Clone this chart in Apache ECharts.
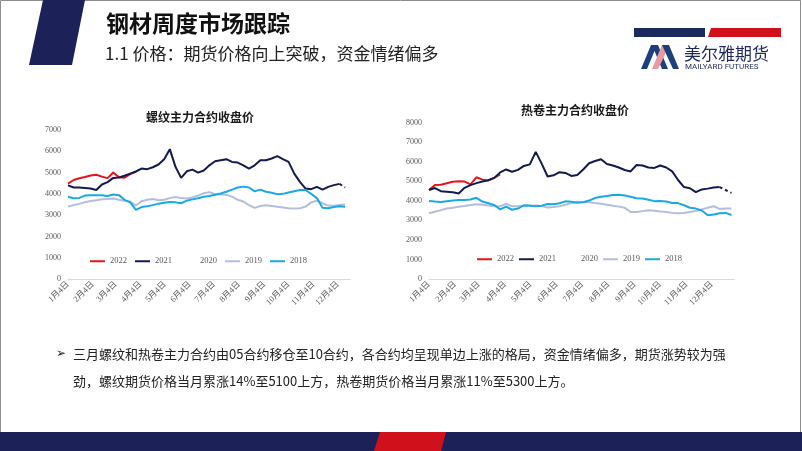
<!DOCTYPE html>
<html><head><meta charset="utf-8">
<script src="https://cdn.jsdelivr.net/npm/echarts@6/dist/echarts.min.js"></script>
<style>html,body{margin:0;padding:0;background:#fff}#c{width:802px;height:451px}</style>
</head><body><div id="c"></div>
<script>
// ---- data ----
const weekDays = [0,7,14,21,28,35,42,49,56,63,70,77,84,91,98,105,112,119,126,133,140,147,154,161,168,175,182,189,196,203,210,217,224,231,238,245,252,259,266,273,280,287,294,301,308,315,322,329,336,343,350,357];
const monthTickDays = [0,31,59,90,120,151,181,212,243,273,304,334];
const monthTickLabels = ['1月4日','2月4日','3月4日','4月4日','5月4日','6月4日','7月4日','8月4日','9月4日','10月4日','11月4日','12月4日'];
const yearNames = ['2022','2021','2020','2019','2018'];

// 螺纹 (rebar)
const rb2022 = [4480,4650,4730,4790,4860,4900,4810,4740,5000,4780,4760,4930,5040];
const rb2021 = [4400,4300,4300,4280,4250,4180,4440,4550,4750,4770,4850,4950,5050,5190,5160,5250,5380,5630,6100,5270,4750,5060,5140,5000,5100,5340,5530,5580,5630,5500,5470,5340,5190,5340,5580,5580,5660,5770,5630,5500,4950,4560,4250,4220,4330,4200,4330,4410,4470];
const rb2021Tail = [4470,4300];
const rb2020 = [];
const rb2019 = [3400,3470,3530,3610,3660,3700,3750,3760,3780,3720,3680,3640,3450,3650,3720,3760,3700,3720,3800,3850,3800,3780,3830,3920,4030,4080,3980,3970,3950,3870,3720,3640,3470,3340,3430,3470,3430,3390,3360,3320,3310,3320,3400,3600,3680,3560,3450,3440,3480,3500];
const rb2018 = [3860,3790,3810,3920,3940,3940,3930,3900,3970,3940,3720,3600,3250,3380,3420,3470,3540,3580,3620,3600,3560,3680,3740,3790,3860,3900,3960,4020,4100,4200,4300,4340,4300,4120,4200,4100,4050,3980,4000,4060,4120,4180,4180,4000,3800,3350,3320,3380,3420,3400];

// 热卷 (hot-rolled coil)
const hc2022 = [4550,4800,4820,4890,4970,5000,4980,4840,5200,5080,5040,5170,5350];
const hc2021 = [4550,4650,4490,4460,4430,4370,4660,4800,4900,4980,5050,5170,5450,5600,5480,5580,5780,5860,6500,5900,5240,5300,5460,5420,5270,5320,5600,5920,6030,6120,5880,5800,5700,5570,5500,5830,5800,5700,5680,5800,5700,5500,5060,4700,4640,4440,4580,4620,4680,4700];
const hc2021Tail = [4700,4550,4400];
const hc2020 = [];
const hc2019 = [3360,3440,3520,3600,3640,3690,3730,3780,3820,3800,3760,3720,3720,3840,3720,3720,3740,3720,3760,3730,3660,3680,3720,3800,3880,3950,3940,3920,3880,3850,3800,3740,3700,3640,3430,3420,3470,3520,3490,3450,3420,3380,3360,3370,3420,3480,3560,3640,3720,3580,3600,3600];
const hc2018 = [3990,3960,3940,3980,4010,4040,4040,4060,4150,3960,3870,3780,3560,3700,3540,3600,3770,3760,3720,3750,3830,3820,3870,3970,3950,3900,3920,4010,4140,4200,4240,4290,4310,4270,4200,4130,4110,4050,3980,3990,3960,3890,3880,3770,3640,3600,3500,3260,3300,3360,3380,3270];

// ---- styling ----
const colors = {'2022':'#e8141c','2021':'#121a4f','2020':'#ffffff','2019':'#b3bedb','2018':'#1aa9e2'};
const serif = '"Liberation Serif","Times New Roman","Noto Sans CJK SC",serif';
const cjk = '"Noto Sans CJK SC",sans-serif';
const navy = '#1c2157';

function mk(name, vals, gi, start, dashed){
  return {
    name, type:'line', xAxisIndex:gi, yAxisIndex:gi, symbol:'none', silent:true,
    data: vals.map((v,i)=>[weekDays[start+i], v]),
    lineStyle:{color:colors[name], width:2, type: dashed ? [3,3] : 'solid'},
    itemStyle:{color:colors[name]}
  };
}

function xAx(gi, max){
  return {
    gridIndex:gi, type:'value', min:0, max:max,
    axisLine:{lineStyle:{color:'#d9d9d9', width:1}},
    axisTick:{show:false}, splitLine:{show:false},
    axisLabel:{customValues:monthTickDays, rotate:45, fontSize:8.5, color:'#595959', fontFamily:serif, margin:4,
      formatter:(v)=>{const i = monthTickDays.indexOf(v); return i>=0 ? monthTickLabels[i] : '';}}
  };
}
function yAx(gi, max){
  return {
    gridIndex:gi, type:'value', min:0, max:max, interval:1000,
    splitLine:{show:false}, axisLine:{show:false}, axisTick:{show:false},
    axisLabel:{fontSize:8, color:'#595959', fontFamily:serif, margin:7, formatter:(v)=>String(v)}
  };
}
function leg(left, top, gap, iw){
  return {
    left, top, padding:0, itemGap:gap, itemWidth:iw, itemHeight:2, icon:'rect',
    data: yearNames, selectedMode:false,
    textStyle:{fontSize:8.5, color:'#595959', fontFamily:serif}
  };
}

const option = {
  animation:false,
  backgroundColor:'#ffffff',
  title:[
    {text:'螺纹主力合约收盘价', left:146, top:111, padding:0, textStyle:{fontSize:12, fontWeight:'bold', color:'#1a1a1a', fontFamily:cjk}},
    {text:'热卷主力合约收盘价', left:521, top:104, padding:0, textStyle:{fontSize:12, fontWeight:'bold', color:'#1a1a1a', fontFamily:cjk}}
  ],
  legend:[ leg(90, 257, 8, 15), leg(477, 255, 5, 15) ],
  grid:[
    {left:68, top:130, width:282, height:149},
    {left:429, top:122.5, width:305, height:156.5}
  ],
  xAxis:[ xAx(0, 349), xAx(1, 360) ],
  yAxis:[ yAx(0, 7000), yAx(1, 8000) ],
  series:[
    mk('2022', rb2022, 0, 0),
    mk('2021', rb2021, 0, 0),
    mk('2021', rb2021Tail, 0, 48, true),
    mk('2020', rb2020, 0, 0),
    mk('2019', rb2019, 0, 0),
    mk('2018', rb2018, 0, 0),
    mk('2022', hc2022, 1, 0),
    mk('2021', hc2021, 1, 0),
    mk('2021', hc2021Tail, 1, 49, true),
    mk('2020', hc2020, 1, 0),
    mk('2019', hc2019, 1, 0),
    mk('2018', hc2018, 1, 0)
  ],
  graphic:[
    {type:'rect', shape:{x:0.5,y:0.5,width:800,height:450}, style:{fill:'none', stroke:'#8c8c8c', lineWidth:1}, silent:true},
    {type:'polygon', shape:{points:[[43,0],[85,0],[72,65],[29,65]]}, style:{fill:navy}},
    {type:'text', x:106, y:23, style:{text:'钢材周度市场跟踪', font:'bold 23px "Noto Sans CJK SC"', fill:'#111', textVerticalAlign:'middle'}},
    {type:'text', x:105, y:54, style:{text:'1.1 价格：期货价格向上突破，资金情绪偏多', font:'17px "Noto Sans CJK SC"', fill:'#222', textVerticalAlign:'middle'}},
    // logo
    {type:'rect', shape:{x:634,y:28,width:71,height:9}, style:{fill:'#1d2a5c'}},
    {type:'polygon', shape:{points:[[711,28],[781,28],[781,37],[708,37]]}, style:{fill:'#d0111b'}},
    {type:'polygon', shape:{points:[[641,69],[651,45],[658,45],[668,69],[662,69],[654.5,51],[647,69]]}, style:{fill:'#1d3f7a'}},
    {type:'polygon', shape:{points:[[652,69],[662,45],[669,45],[663,59],[658,69]]}, style:{fill:'#e89aa3'}},
    {type:'polygon', shape:{points:[[662,45],[669,45],[679,69],[673,69]]}, style:{fill:'#1d3f7a'}},
    {type:'text', x:684, y:54, style:{text:'美尔雅期货', font:'17px "Noto Sans CJK SC"', fill:'#1f2a5a', textVerticalAlign:'middle'}},
    {type:'text', x:685, y:67, style:{text:'MAILYARD FUTURES', font:'8px Roboto', fill:'#1f2a5a', textVerticalAlign:'middle'}},
    // paragraph
    {type:'text', x:56, y:354, style:{text:'➢', font:'12px "DejaVu Sans"', fill:'#222', textVerticalAlign:'middle'}},
    {type:'text', x:73, y:354, style:{text:'三月螺纹和热卷主力合约由05合约移仓至10合约，各合约均呈现单边上涨的格局，资金情绪偏多，期货涨势较为强', font:'13px "Noto Sans CJK SC"', fill:'#222', textVerticalAlign:'middle'}},
    {type:'text', x:73, y:381, style:{text:'劲，螺纹期货价格当月累涨14%至5100上方，热卷期货价格当月累涨11%至5300上方。', font:'13px "Noto Sans CJK SC"', fill:'#222', textVerticalAlign:'middle'}},
    // bottom band
    {type:'rect', shape:{x:0,y:432,width:802,height:19}, style:{fill:navy}},
    {type:'polygon', shape:{points:[[380,432],[446,432],[441,451],[374,451]]}, style:{fill:'#d0111b'}}
  ]
};
const chart = echarts.init(document.getElementById('c'), null, {renderer:'canvas'});
chart.setOption(option);
</script></body></html>
